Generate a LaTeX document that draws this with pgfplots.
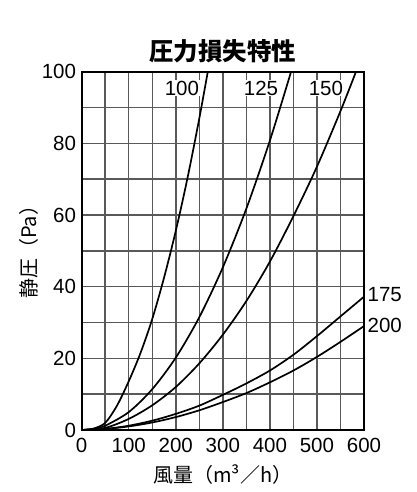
\documentclass[border=0pt]{standalone}
\usepackage{pgfplots}
\pgfplotsset{compat=1.18}
\usepackage{fontspec}
\setmainfont{Liberation Sans}
\newfontfamily\cjk{Noto Sans CJK JP}
\pgfplotsset{curve/.style={black, line width=1.7pt, mark=none, smooth}}

\begin{document}
\begin{tikzpicture}
\path[use as bounding box] (-81.7pt,-62pt) rectangle (334.3pt,430pt);
\begin{axis}[
  scale only axis, width=282.3pt, height=358.3pt,
  xmin=0, xmax=600, ymin=0, ymax=100,
  xtick={0,100,...,600}, minor xtick={50,150,...,550},
  ytick={0,20,...,100}, minor ytick={10,30,...,90},
  grid=both,
  major grid style={line width=1.5pt, black!65},
  minor grid style={line width=1.5pt, black!65},
  axis line style={line width=2pt},
  tick style={draw=none},
  /pgf/number format/assume math mode=true,
  tick label style={font=\fontsize{20.5}{20.5}\selectfont, inner sep=0pt},
  yticklabel style={xshift=-5.5pt},
  xticklabel style={yshift=-7.5pt},
  title={\cjk\bfseries 圧力損失特性},
  title style={at={(axis description cs:0.5,1.04)}, anchor=center, yshift=0pt,
    font=\fontsize{24.5}{24.5}\selectfont},
  xlabel={\cjk 風量（m³／h）},
  xlabel style={at={(axis description cs:0.5,-0.125)}, anchor=center,
    font=\fontsize{20}{20}\selectfont},
  ylabel={\cjk 静圧（Pa）},
  ylabel style={at={(axis description cs:-0.188,0.51)}, anchor=center,
    font=\fontsize{20}{20}\selectfont},
  clip=false,
]
% 100
\addplot[curve] coordinates {(0,0) (25,0.4) (50,2) (75,6.8) (100,13.6) (125,21.5)
  (150,31) (175,42.5) (200,55.6) (225,70.4) (250,87) (268,100)};
% 125
\addplot[curve] coordinates {(0,0) (25,0.3) (50,1.2) (100,5) (150,11.4) (200,20.2)
  (250,31.5) (300,45.4) (350,61.8) (400,80.8) (445,100)};
% 150
\addplot[curve] coordinates {(0,0) (50,0.6) (100,3.1) (150,6.9) (200,12) (250,18.6)
  (300,26.6) (350,36) (400,47) (450,59.7) (500,73.5) (550,89) (583,100)};
% 175
\addplot[curve] coordinates {(0,0) (50,0.3) (100,1.2) (150,2.6) (200,4.5) (250,6.8) (300,9.8)
  (350,13) (400,16.6) (450,21) (500,26.2) (550,31.7) (600,37.2)};
% 200
\addplot[curve] coordinates {(0,0) (50,0.3) (100,1) (150,2.1) (200,3.6) (250,5.5) (300,7.8)
  (350,10.3) (400,13.3) (450,16.6) (500,20.4) (550,24.6) (600,29)};

\node[font=\fontsize{20.5}{20.5}\selectfont, fill=white, inner sep=1pt] at (axis cs:213,95.4) {100};
\node[font=\fontsize{20.5}{20.5}\selectfont, fill=white, inner sep=1pt] at (axis cs:381,95.4) {125};
\node[font=\fontsize{20.5}{20.5}\selectfont, fill=white, inner sep=1pt] at (axis cs:519,95.4) {150};
\node[font=\fontsize{20.5}{20.5}\selectfont, anchor=west, inner sep=0pt, xshift=3.5pt] at (axis cs:600,37.7) {175};
\node[font=\fontsize{20.5}{20.5}\selectfont, anchor=west, inner sep=0pt, xshift=3.5pt] at (axis cs:600,29.3) {200};
\end{axis}
\end{tikzpicture}
\end{document}
